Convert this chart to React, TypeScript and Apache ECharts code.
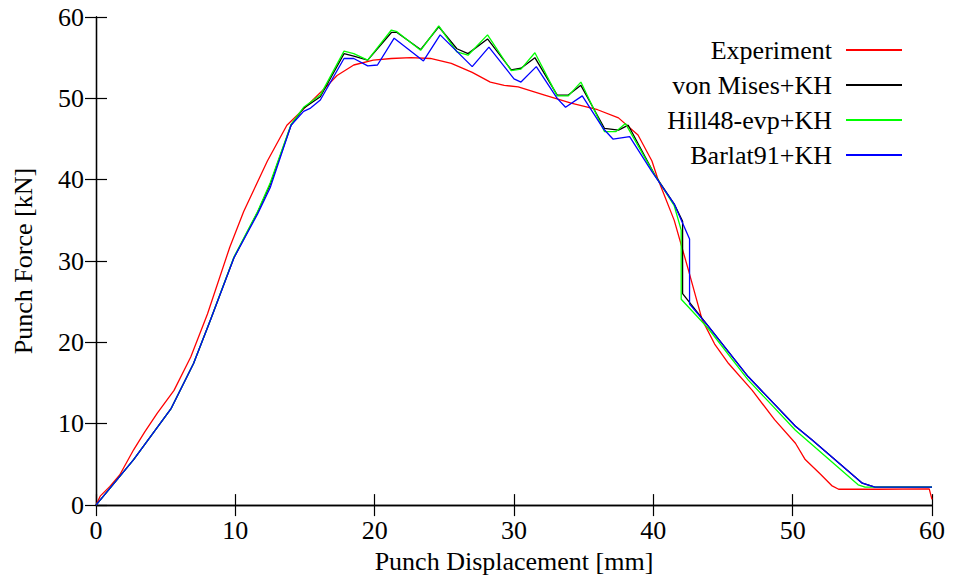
import React, { useEffect, useRef } from "react";
import * as echarts from "echarts";

const seriesNames = ["Experiment", "von Mises+KH", "Hill48-evp+KH", "Barlat91+KH"];
const seriesColors = ["#ff0000", "#000000", "#00ff00", "#0000ff"];

const expX = [0, 0.3, 1.0, 1.7, 2.7, 3.5, 4.4, 5.6, 6.8, 8.0, 9.6, 10.6, 12.3, 13.7, 15.2, 16.4, 17.3, 18.5, 19.9, 21.2, 22.6, 24.0, 25.5, 27.0, 28.3, 29.3, 30.3, 32.2, 34.1, 36.0, 37.5, 38.9, 39.9, 40.3, 41.5, 42.5, 43.5, 44.4, 45.4, 47.1, 48.7, 50.2, 50.9, 52.0, 52.8, 53.3, 56.0, 59.8, 60.0];
const expY = [0, 1.1, 2.3, 3.7, 6.8, 9.0, 11.3, 14.1, 18.2, 23.5, 31.7, 36.1, 42.3, 46.7, 49.2, 51.2, 52.8, 54.1, 54.7, 54.9, 55.0, 54.9, 54.3, 53.2, 52.0, 51.6, 51.4, 50.4, 49.4, 48.6, 47.6, 45.5, 42.3, 40.2, 35.0, 29.0, 22.8, 19.8, 17.4, 14.1, 10.5, 7.6, 5.6, 3.8, 2.4, 1.95, 1.95, 2.0, 0.7];

const vmX = [0, 2.7, 5.4, 7.0, 8.2, 9.9, 11.6, 12.5, 14.0, 14.9, 16.1, 17.8, 18.5, 19.5, 21.2, 21.6, 23.3, 24.6, 25.9, 26.7, 28.1, 29.8, 30.5, 31.5, 33.1, 33.9, 34.8, 36.5, 37.5, 38.2, 40.1, 41.5, 42.1, 42.1, 43.9, 46.8, 50.2, 51.4, 55.0, 55.9, 60.0];
const vmY = [0, 5.6, 11.9, 17.4, 22.7, 30.4, 36.0, 39.4, 46.7, 48.8, 50.2, 55.5, 55.2, 54.7, 58.1, 58.1, 56.0, 58.8, 56.1, 55.5, 57.3, 53.5, 53.7, 55.0, 50.4, 50.4, 51.6, 46.3, 46.1, 46.7, 40.6, 37.0, 34.9, 26.0, 22.1, 15.8, 9.7, 8.0, 2.7, 2.2, 2.2];

const hillX = [0, 2.7, 5.4, 7.0, 8.2, 9.9, 11.6, 12.5, 14.0, 14.9, 16.1, 17.8, 18.5, 19.5, 21.2, 21.6, 23.3, 24.6, 25.9, 26.7, 28.1, 29.8, 30.5, 31.5, 33.1, 33.9, 34.8, 36.5, 37.3, 38.0, 40.1, 41.5, 42.0, 42.0, 43.9, 46.8, 50.2, 54.7, 55.2, 60.0];
const hillY = [0, 5.6, 11.9, 17.4, 22.7, 30.5, 36.1, 39.6, 46.8, 48.9, 50.4, 55.8, 55.5, 54.7, 58.4, 58.2, 55.9, 58.9, 55.7, 55.3, 57.8, 53.4, 53.6, 55.6, 50.3, 50.3, 52.0, 45.9, 45.9, 46.9, 40.6, 36.8, 33.8, 25.3, 21.8, 15.4, 9.2, 2.5, 2.2, 2.2];

const barX = [0, 2.7, 5.4, 7.0, 8.2, 9.9, 11.6, 12.5, 14.0, 14.9, 15.4, 16.1, 17.8, 18.5, 19.5, 20.2, 21.4, 23.5, 24.7, 27.0, 28.2, 30.0, 30.5, 31.6, 33.1, 33.7, 34.9, 36.4, 37.1, 38.3, 39.9, 41.5, 42.6, 42.6, 43.9, 46.8, 50.2, 51.4, 55.0, 55.9, 60.0];
const barY = [0, 5.6, 11.9, 17.4, 22.7, 30.4, 35.8, 39.0, 46.7, 48.4, 48.8, 49.8, 54.9, 54.9, 54.0, 54.1, 57.4, 54.6, 57.8, 53.9, 56.3, 52.4, 52.0, 53.9, 50.0, 48.9, 50.3, 46.3, 45.0, 45.3, 41.0, 37.0, 32.7, 24.7, 22.1, 15.8, 9.7, 8.0, 2.7, 2.2, 2.2];

const xTicks = [0, 10, 20, 30, 40, 50, 60];
const yTicks = [0, 10, 20, 30, 40, 50, 60];

const FONT = "'Liberation Serif', 'DejaVu Serif', serif";

function pairs(xs: number[], ys: number[]) {
  return xs.map((x, i) => [x, ys[i]]);
}

export default function App() {
  const ref = useRef<HTMLDivElement>(null);
  useEffect(() => {
    if (!ref.current) return;
    const chart = echarts.init(ref.current, undefined, { renderer: "svg" });
    const allX = [expX, vmX, hillX, barX];
    const allY = [expY, vmY, hillY, barY];
    const axisLine = { show: true, lineStyle: { color: "#000", width: 1.3 } };
    const tick = { show: true, inside: true, length: 11, lineStyle: { color: "#000", width: 1.2 } };
    const labelStyle = { color: "#000", fontFamily: FONT, fontSize: 26 };
    chart.setOption({
      animation: false,
      backgroundColor: "#fff",
      grid: { left: 96, right: 21, top: 17, bottom: 70, show: false },
      legend: {
        show: true,
        orient: "vertical",
        align: "right",
        right: 46,
        top: 32,
        itemWidth: 56,
        itemHeight: 2,
        itemGap: 9,
        icon: "rect",
        data: seriesNames,
        textStyle: { color: "#000", fontFamily: FONT, fontSize: 26, lineHeight: 26, padding: [0, 9, 0, 0] },
      },
      xAxis: [
        {
          type: "value",
          min: 0,
          max: 60,
          interval: 10,
          position: "bottom",
          axisLine,
          axisTick: tick,
          splitLine: { show: false },
          axisLabel: { ...labelStyle, margin: 12, formatter: (v: number) => (xTicks.includes(v) ? String(v) : "") },
          name: "Punch Displacement [mm]",
          nameLocation: "middle",
          nameGap: 38,
          nameTextStyle: labelStyle,
        },
        {
          type: "value",
          min: 0,
          max: 60,
          interval: 10,
          position: "top",
          axisLine,
          axisTick: tick,
          splitLine: { show: false },
          axisLabel: { show: false },
        },
      ],
      yAxis: [
        {
          type: "value",
          min: 0,
          max: 60,
          interval: 10,
          position: "left",
          axisLine,
          axisTick: tick,
          splitLine: { show: false },
          axisLabel: { ...labelStyle, margin: 12, formatter: (v: number) => (yTicks.includes(v) ? String(v) : "") },
          name: "Punch Force [kN]",
          nameLocation: "middle",
          nameGap: 60,
          nameTextStyle: labelStyle,
        },
        {
          type: "value",
          min: 0,
          max: 60,
          interval: 10,
          position: "right",
          axisLine,
          axisTick: tick,
          splitLine: { show: false },
          axisLabel: { show: false },
        },
      ],
      series: seriesNames.map((name, i) => ({
        name,
        type: "line",
        xAxisIndex: 0,
        yAxisIndex: 0,
        symbol: "none",
        showSymbol: false,
        color: seriesColors[i],
        lineStyle: { color: seriesColors[i], width: 1.3 },
        itemStyle: { color: seriesColors[i] },
        data: pairs(allX[i], allY[i]),
        z: 2 + i,
      })),
    });
    return () => chart.dispose();
  }, []);
  return <div ref={ref} style={{ width: 953, height: 579, position: "absolute", left: 0, top: 0 }} />;
}
